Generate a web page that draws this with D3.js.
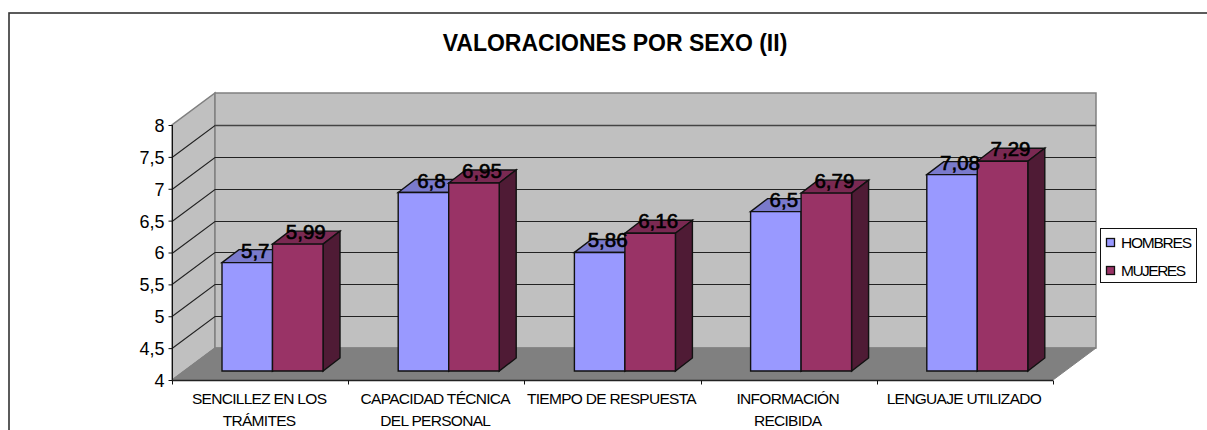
<!DOCTYPE html>
<html><head><meta charset="utf-8">
<script src="https://cdn.jsdelivr.net/npm/d3@7"></script>
<style>html,body{margin:0;padding:0;background:#fff;overflow:hidden}svg{display:block}text{font-family:"Liberation Sans",Arial,sans-serif;fill:#000}</style>
</head><body><div id="c"></div>
<script>
const categories=[["SENCILLEZ EN LOS","TRÁMITES"],["CAPACIDAD TÉCNICA","DEL PERSONAL"],["TIEMPO DE RESPUESTA"],["INFORMACIÓN","RECIBIDA"],["LENGUAJE UTILIZADO"]];
const seriesNames=["HOMBRES","MUJERES"];
const hombres=[5.7,6.8,5.86,6.5,7.08];
const mujeres=[5.99,6.95,6.16,6.79,7.29];
const yTicks=[4,4.5,5,5.5,6,6.5,7,7.5,8];
const frontColors=["#9999ff","#993366"],topColors=["#7a7acc","#7a2952"],sideColors=["#5c5c99","#4f1b35"];

const W=1207,H=430;
const svg=d3.select("#c").append("svg").attr("width",W).attr("height",H);
const fmt=v=>String(v).replace(".",",");
const x=d3.scaleBand().domain(d3.range(categories.length)).range([172,1053]);
const y=d3.scaleLinear().domain([4,8]).range([380,125]);
const depth=[43,-32],bd=[17,-13],bo=[12,-9];
const sx=d3.scaleBand().domain(seriesNames).range([38,139]);
const line=d3.line();

svg.append("rect").attr("x",9).attr("y",13).attr("width",W).attr("height",H).attr("fill","#fff").attr("stroke","#333").attr("stroke-width",1.6);
svg.append("text").attr("x",615).attr("y",51).attr("text-anchor","middle").attr("font-size",23).attr("font-weight","bold").text("VALORACIONES POR SEXO (II)");

const [x0,x1]=x.range(),[yb,yt]=y.range();
const poly=(pts,fill,stroke,sw)=>svg.append("path").attr("d",line(pts)+"Z").attr("fill",fill).attr("stroke",stroke||"none").attr("stroke-width",sw||0);
poly([[x0,yb],[x0+depth[0],yb+depth[1]],[x0+depth[0],yt+depth[1]],[x0,yt]],"#c0c0c0","#808080",1.5);
poly([[x0+depth[0],yb+depth[1]],[x1+depth[0],yb+depth[1]],[x1+depth[0],yt+depth[1]],[x0+depth[0],yt+depth[1]]],"#c0c0c0","#808080",1.5);
poly([[x0,yb],[x1,yb],[x1+depth[0],yb+depth[1]],[x0+depth[0],yb+depth[1]]],"#808080","#808080",1);

yTicks.slice(1,-1).forEach(t=>{
  const yy=Math.round(y(t))+.5;
  svg.append("path").attr("d",line([[x0,yy],[x0+depth[0],yy+depth[1]],[x1+depth[0],yy+depth[1]]])).attr("fill","none").attr("stroke","#222").attr("stroke-width",1.1);
});
svg.append("path").attr("d",line([[x0+depth[0],yt+.5],[x1+depth[0],yt+.5]])).attr("fill","none").attr("stroke","#444").attr("stroke-width",1.3);

const ya=svg.append("g").attr("transform",`translate(${x0+.5},0)`).call(d3.axisLeft(y).tickValues(yTicks).tickSize(4).tickFormat(fmt));
ya.selectAll("text").attr("font-size",18).attr("x",-8).attr("dy","0.36em").style("font-family",'"Liberation Sans",Arial,sans-serif');
ya.selectAll("line,path").attr("stroke","#111");
ya.select("path").attr("d",line([[0,yt],[0,yb]]));
const base=Math.round(yb)+.5;
svg.append("path").attr("d",line([[x0,base],[x1,base]])).attr("stroke","#222").attr("stroke-width",1.5);
d3.range(categories.length+1).forEach(i=>{const px=Math.round(i<categories.length?x(i):x1)+.5;
  svg.append("path").attr("d",line([[px,base],[px,base+4]])).attr("stroke","#111");});
categories.forEach((c,i)=>{
  const t=svg.append("text").attr("text-anchor","middle").attr("font-size",15.5).attr("letter-spacing",-0.7);
  c.forEach((s,j)=>t.append("tspan").attr("x",x(i)+x.bandwidth()/2-1).attr("y",404+j*22).text(s));
});

const barY0=y(4)+bo[1];
categories.forEach((c,i)=>{
  [hombres,mujeres].forEach((vals,si)=>{
    const a=x(i)+bo[0]+sx(seriesNames[si]),b=a+sx.bandwidth(),top=y(vals[i])+bo[1],bot=barY0;
    poly([[a,top],[a+bd[0],top+bd[1]],[b+bd[0],top+bd[1]],[b,top]],topColors[si],"#111",1.4);
    poly([[b,top],[b+bd[0],top+bd[1]],[b+bd[0],bot+bd[1]],[b,bot]],sideColors[si],"#111",1.4);
    poly([[a,top],[b,top],[b,bot],[a,bot]],frontColors[si],"#111",1.4);
  });
});
categories.forEach((c,i)=>{
  [hombres,mujeres].forEach((vals,si)=>{
    const a=x(i)+bo[0]+sx(seriesNames[si]);
    svg.append("text").attr("x",a+sx.bandwidth()/2+8).attr("y",y(vals[i])+bo[1]-5).attr("text-anchor","middle").attr("font-size",20.5).attr("stroke","#000").attr("stroke-width",.6).text(fmt(vals[i]));
  });
});
svg.append("rect").attr("x",1100.5).attr("y",228.5).attr("width",96).attr("height",54).attr("fill","#fff").attr("stroke","#111");
seriesNames.forEach((s,i)=>{
  svg.append("rect").attr("x",1106.5).attr("y",238.5+i*28).attr("width",8).attr("height",8).attr("fill",frontColors[i]).attr("stroke","#111").attr("stroke-width",1.3);
  svg.append("text").attr("x",1121).attr("y",248+i*28).attr("font-size",15.5).attr("textLength",i?65:71).attr("lengthAdjust","spacing").text(s);
});
</script></body></html>
